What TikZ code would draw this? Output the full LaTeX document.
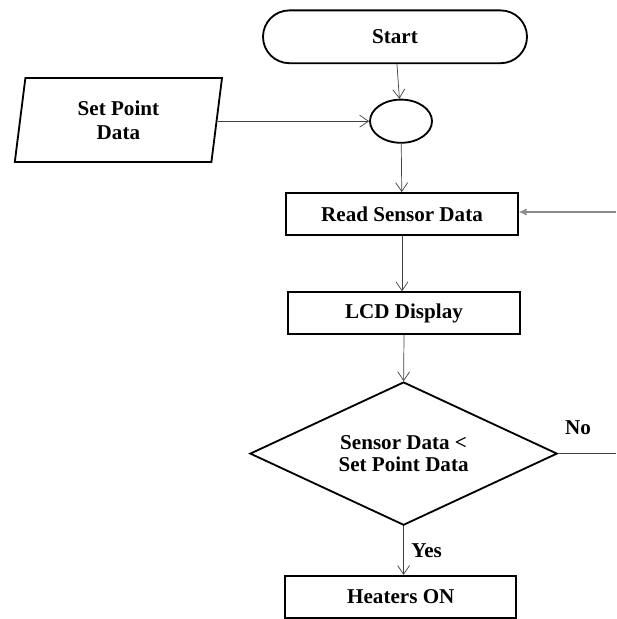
\documentclass[tikz,border=0pt]{standalone}
\usepackage{fontspec}
\setmainfont{Liberation Serif}
\usetikzlibrary{shapes,shapes.geometric,arrows.meta,calc}
\tikzset{
  fcnode/.style = {align=center, inner sep=0pt, text centered, font=\fontsize{15}{17}\selectfont\bfseries, draw=black, line width=1.3pt},
  fc_term/.style = {fcnode, rectangle, rounded corners=0.66cm, minimum width=6.6cm, minimum height=1.32cm},
  fc_box/.style = {fcnode, rectangle, minimum width=5.78cm, minimum height=1.05cm},
  fc_io/.style = {fcnode, trapezium, trapezium left angle=74.7, trapezium right angle=105.3, trapezium stretches body, minimum width=5.18cm, minimum height=2.1cm},
  fc_dec/.style = {fcnode, diamond, aspect=2.15, minimum width=7.68cm, minimum height=3.58cm, font=\fontsize{15}{16}\selectfont\bfseries},
  fc_join/.style = {fcnode, ellipse, minimum width=1.55cm, minimum height=1.08cm},
  fc_line/.style = {draw=black!75, line width=0.5pt, -{Straight Barb[length=2.2mm,width=3mm]}},
  fc_back/.style = {draw=black!45, line width=0.9pt, -{Latex[length=2mm,width=1.8mm]}},
  fc_lbl/.style = {font=\fontsize{15}{17}\selectfont\bfseries}
}
\begin{document}
\begin{tikzpicture}
\useasboundingbox (0,0) rectangle (15.4,-15.475);
% flow chart nodes
\node [fc_term] (start) at (9.875,-0.92) {Start};
\node [fc_io] (setpt) at (2.96,-3.0) {Set Point\\Data};
\node [fc_join] (join) at (10.025,-3.03) {};
\node [fc_box] (read) at (10.05,-5.35) {Read Sensor Data};
\node [fc_box] (lcd) at (10.1,-7.83) {LCD Display};
\node [fc_dec] (cmp) at (10.09,-11.34) {Sensor Data <\\Set Point Data};
\node [fc_box] (heat) at (10.02,-14.92) {Heaters ON};
% loose ends at the right border
\coordinate (backin) at (15.4,-5.3);
\coordinate (noout) at (15.4,-11.34);
% connectors
\draw [fc_line] (start) -- (join);
\draw [fc_line] (setpt.east |- join) -- (join);
\draw [fc_line] (join) -- (read);
\draw [fc_line] (read) -- (read |- lcd.north);
\draw [fc_line] (lcd.south) -- (cmp.north);
\draw [fc_line] (cmp.south) -- node [fc_lbl, right=2pt] {Yes} (heat.north -| cmp.south);
\draw [draw=black!75, line width=0.5pt] (cmp.east) -- (noout);
\node [fc_lbl] (nolbl) at (14.45,-10.68) {No};
\draw [fc_back] (backin) -- (read.east |- backin);
\end{tikzpicture}
\end{document}
